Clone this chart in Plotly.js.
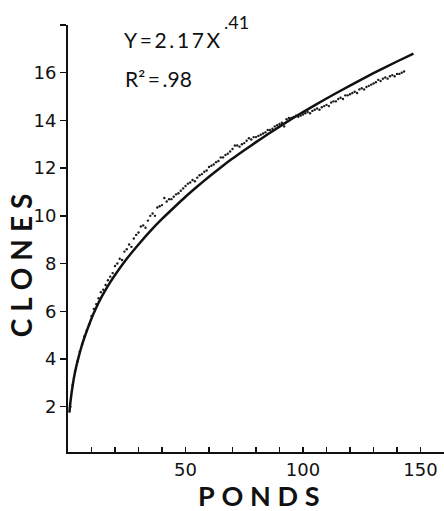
<!DOCTYPE html>
<html><head><meta charset="utf-8">
<script src="https://cdn.plot.ly/plotly-3.0.1.min.js"></script>
<style>html,body{margin:0;padding:0;background:#fff}#chart{width:444px;height:511px}</style>
</head><body><div id="chart"></div>
<script>
// Observed cumulative clones vs number of ponds (dots)
const ponds = [];
for (let i = 1; i <= 143; i++) ponds.push(i);
const clones = [
  2.0, 2.9, 3.5, 3.9, 4.3, 4.6, 4.95, 5.2, 5.45, 5.8,
  6.1, 6.3, 6.55, 6.8, 6.9, 7.1, 7.3, 7.45, 7.6, 7.9,
  8.0, 8.2, 8.15, 8.5, 8.6, 8.8, 8.7, 9.05, 9.2, 9.3,
  9.55, 9.6, 9.5, 9.8, 10.0, 10.1, 10.0, 10.35, 10.4, 10.45,
  10.75, 10.6, 10.7, 10.7, 10.8, 10.9, 10.95, 11.05, 11.15, 11.25,
  11.35, 11.4, 11.5, 11.45, 11.6, 11.7, 11.75, 11.85, 11.9, 12.05,
  12.1, 12.15, 12.25, 12.3, 12.45, 12.45, 12.55, 12.6, 12.7, 12.8,
  12.95, 12.95, 12.9, 13.0, 13.05, 13.15, 13.25, 13.2, 13.3, 13.3,
  13.35, 13.4, 13.45, 13.5, 13.6, 13.6, 13.65, 13.75, 13.8, 13.85,
  13.9, 13.75, 14.05, 14.1, 14.1, 14.15, 14.2, 14.15, 14.2, 14.25,
  14.3, 14.35, 14.3, 14.4, 14.45, 14.5, 14.45, 14.55, 14.6, 14.65,
  14.6, 14.75, 14.8, 14.8, 14.9, 14.95, 14.9, 15.05, 15.05, 15.1,
  15.15, 15.2, 15.15, 15.3, 15.35, 15.3, 15.4, 15.45, 15.5, 15.55,
  15.6, 15.7, 15.65, 15.75, 15.8, 15.75, 15.85, 15.9, 15.85, 15.95,
  15.95, 16.0, 16.05
];
// Fitted curve Y = 2.17 X^.41
const fitX = [0.6, 1, 2, 3, 4, 5, 6, 7, 8, 10, 12, 14, 16, 18, 20, 25, 30, 35, 40, 45, 50, 55, 60, 65, 70, 75, 80, 85, 90, 95, 100, 110, 120, 130, 140, 147];
const fitY = [1.75, 2.17, 2.9, 3.45, 3.88, 4.26, 4.6, 4.9, 5.18, 5.7, 6.15, 6.55, 6.9, 7.22, 7.52, 8.2, 8.8, 9.36, 9.87, 10.34, 10.8, 11.23, 11.64, 12.03, 12.4, 12.75, 13.09, 13.42, 13.74, 14.05, 14.35, 14.92, 15.46, 15.98, 16.47, 16.8];
// Ticks
const xTickVals = [50, 100, 150];
const xTickText = ["50", "100", "150"];
const xMinorTicks = [10, 20, 30, 40, 60, 70, 80, 90, 110, 120, 130, 140];
const yTickVals = [2, 4, 6, 8, 10, 12, 14, 16];
const yTickText = ["2", "4", "6", "8", "10", "12", "14", "16"];
const yMinorTicks = [18];

const FONT = "Lato, 'DejaVu Sans', sans-serif";
const TICKFONT = "'DejaVu Sans', sans-serif";
const TS = "\u2009";

const traces = [
  {x: ponds, y: clones, type: 'scatter', mode: 'markers',
   marker: {size: 2.4, color: '#1a1a1a'}, hoverinfo: 'skip'},
  {x: fitX, y: fitY, type: 'scatter', mode: 'lines',
   line: {color: '#111', width: 2.5, shape: 'spline', smoothing: 0.6}, hoverinfo: 'skip'}
];

const ann = (text, x, y, size, opts) => Object.assign({
  text, x, y, xref: 'paper', yref: 'paper', showarrow: false,
  xanchor: 'left', yanchor: 'middle', borderpad: 0,
  font: {family: FONT, size, color: '#111'}
}, opts || {});

const layout = {
  width: 444, height: 511,
  margin: {l: 68, r: 0, t: 25, b: 59},
  paper_bgcolor: '#fff', plot_bgcolor: '#fff',
  showlegend: false,
  xaxis: {
    range: [0, 160], showgrid: false, zeroline: false,
    showline: true, linecolor: '#111', linewidth: 2,
    ticks: 'inside', ticklen: 5, tickwidth: 1.5, tickcolor: '#111',
    tickmode: 'array', tickvals: xTickVals, ticktext: xTickText,
    minor: {tickmode: 'array', tickvals: xMinorTicks, ticks: 'inside', ticklen: 5, tickwidth: 1.5, tickcolor: '#111', showgrid: false},
    tickfont: {family: TICKFONT, size: 18, color: '#111'}
  },
  yaxis: {
    range: [0.1, 18], showgrid: false, zeroline: false,
    showline: true, linecolor: '#111', linewidth: 2,
    ticks: 'outside', ticklen: 6, tickwidth: 1.5, tickcolor: '#111',
    tickmode: 'array', tickvals: yTickVals, ticktext: yTickText,
    minor: {tickmode: 'array', tickvals: yMinorTicks, ticks: 'outside', ticklen: 6, tickwidth: 1.5, tickcolor: '#111', showgrid: false},
    tickfont: {family: TICKFONT, size: 18, color: '#111'}
  },
  annotations: [
    ann(['P','O','N','D','S'].join(TS + TS), 0.507, -0.103, 27, {xanchor: 'center', font: {family: FONT, size: 27, color: '#111', weight: 'bold'}}),
    ann(['C','L','O','N','E','S'].join(TS + TS), -0.124, 0.438, 28, {xanchor: 'center', textangle: -90, font: {family: FONT, size: 28, color: '#111', weight: 'bold'}}),
    ann(['Y','=','2','.','1','7','X'].join(TS), 0.146, 0.967, 21),
    ann('.41', 0.412, 1.008, 18),
    ann('R\u00b2' + TS + '=' + TS + '.98', 0.149, 0.875, 21)
  ]
};

Plotly.newPlot('chart', traces, layout, {staticPlot: true, displayModeBar: false});
</script>
</body></html>
